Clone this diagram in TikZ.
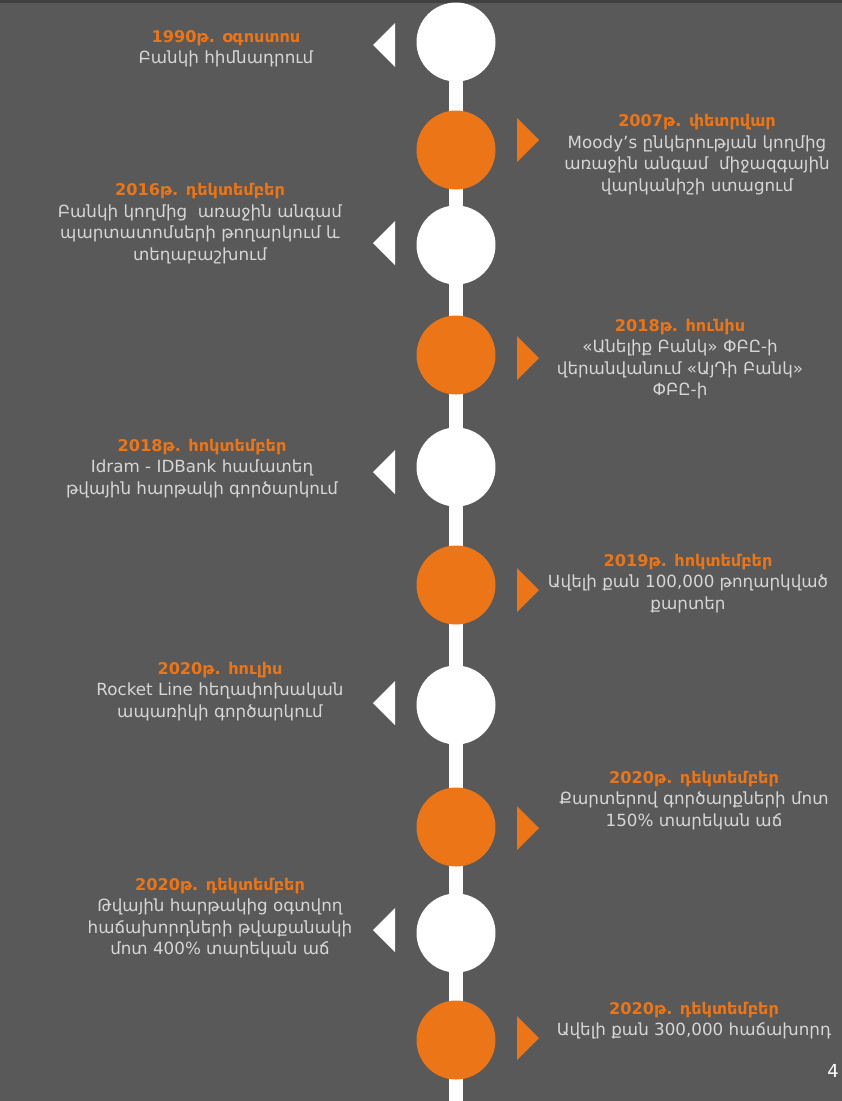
\documentclass[tikz,border=0pt]{standalone}
\usepackage{fontspec}
\setmainfont{DejaVu Sans}
\definecolor{bgc}{HTML}{595959}
\definecolor{topc}{HTML}{404040}
\definecolor{orng}{HTML}{EC7518}
\definecolor{txtc}{HTML}{D6D6D6}
\newcommand{\ttl}[1]{\textcolor{orng}{\fontsize{16.2}{21.6}\selectfont\bfseries #1}}
\newcommand{\blk}[1]{\begin{tabular}[t]{@{}c@{}}#1\end{tabular}}
\pgfdeclarelayer{bglayer}
\pgfdeclarelayer{midlayer}
\pgfsetlayers{bglayer,midlayer,main}
\begin{document}
\begin{tikzpicture}[x=1bp,y=-1bp,
  dotw/.style={circle, fill=white, minimum size=79bp, inner sep=0pt},
  doto/.style={circle, fill=orng, minimum size=79bp, inner sep=0pt},
  lbl/.style={anchor=base, inner sep=0pt, text=txtc, font=\fontsize{16.8}{21.6}\selectfont},
  spine/.style={draw=white, line width=14.4bp},
  tri/.style={fill=#1}
]
\useasboundingbox (0,0) rectangle (842,1101);
\begin{pgfonlayer}{bglayer}
\fill[bgc] (0,0) rectangle (842,1101);
\fill[topc] (0,0) rectangle (842,2.7);
\end{pgfonlayer}

% circles
\node[dotw] (c1) at (456,42) {};
\node[doto] (c2) at (456,150) {};
\node[dotw] (c3) at (456,245) {};
\node[doto] (c4) at (456,355) {};
\node[dotw] (c5) at (456,467) {};
\node[doto] (c6) at (456,585) {};
\node[dotw] (c7) at (456,705) {};
\node[doto] (c8) at (456,827) {};
\node[dotw] (c9) at (456,933) {};
\node[doto] (c10) at (456,1040) {};
\coordinate (bot) at (456,1101);

\begin{pgfonlayer}{midlayer}
\draw[spine] (c1.center) -- (bot);
\end{pgfonlayer}

% pointers
\foreach \y in {45,243,472,703,930}{
  \fill[tri=white] (373,\y) -- (395,\y-22) -- (395,\y+22) -- cycle;}
\foreach \y in {140,358,590,828,1038}{
  \fill[tri=orng] (539,\y) -- (517,\y-22) -- (517,\y+22) -- cycle;}

% texts
\node[lbl] (t1) at (226,42) {\blk{\ttl{1990թ. օգոստոս}\\ Բանկի հիմնադրում}};
\node[lbl] (t2) at (697,126.7) {\blk{\ttl{2007թ. փետրվար}\\ Moody’s ընկերության կողմից\\ առաջին անգամ\ \ միջազգային\\ վարկանիշի ստացում}};
\node[lbl] (t3) at (200,195.7) {\blk{\ttl{2016թ. դեկտեմբեր}\\ Բանկի կողմից\ \ առաջին անգամ\\ պարտատոմսերի թողարկում և\\ տեղաբաշխում}};
\node[lbl] (t4) at (680,331) {\blk{\ttl{2018թ. հունիս}\\ «Անելիք Բանկ» ՓԲԸ-ի\\ վերանվանում «ԱյԴի Բանկ»\\ ՓԲԸ-ի}};
\node[lbl] (t5) at (202,451) {\blk{\ttl{2018թ. հոկտեմբեր}\\ Idram - IDBank համատեղ\\ թվային հարթակի գործարկում}};
\node[lbl] (t6) at (688,566) {\blk{\ttl{2019թ. հոկտեմբեր}\\ Ավելի քան 100,000 թողարկված\\ քարտեր}};
\node[lbl] (t7) at (220,674.3) {\blk{\ttl{2020թ. հուլիս}\\ Rocket Line հեղափոխական\\ ապառիկի գործարկում}};
\node[lbl] (t8) at (694,783.3) {\blk{\ttl{2020թ. դեկտեմբեր}\\ Քարտերով գործարքների մոտ\\ 150\% տարեկան աճ}};
\node[lbl] (t9) at (220,890) {\blk{\ttl{2020թ. դեկտեմբեր}\\ Թվային հարթակից օգտվող\\ հաճախորդների թվաքանակի\\ մոտ 400\% տարեկան աճ}};
\node[lbl] (t10) at (694,1014.3) {\blk{\ttl{2020թ. դեկտեմբեր}\\ Ավելի քան 300,000 հաճախորդ}};
\node[anchor=base, inner sep=0pt, text=white, font=\fontsize{18}{20}\selectfont] (pg) at (833,1077) {4};
\end{tikzpicture}
\end{document}
